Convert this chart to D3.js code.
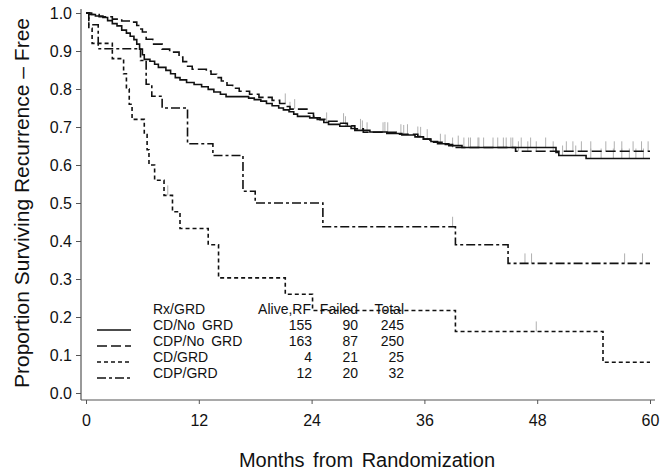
<!DOCTYPE html>
<html><head><meta charset="utf-8">
<script src="https://cdn.jsdelivr.net/npm/d3@7"></script>
<style>
body{margin:0;background:#fff}
svg{display:block}
text{font-family:"Liberation Sans",Arial,Helvetica,sans-serif;fill:#111}
</style>
</head><body>
<svg id="chart" width="664" height="471"></svg>
<script>
// ---- data ----
const seriesNames = ["CD/No GRD", "CDP/No GRD", "CD/GRD", "CDP/GRD"];
const aliveRF = [155, 163, 4, 12];
const failed = [90, 87, 21, 20];
const total = [245, 250, 25, 32];

const xTicks = [0, 12, 24, 36, 48, 60];
const yTicks = [0, 0.1, 0.2, 0.3, 0.4, 0.5, 0.6, 0.7, 0.8, 0.9, 1.0];

const cdNoGrdTime = [0,0.4,1.0,1.8,2.3,2.8,3.3,3.8,4.3,4.7,5.1,5.4,5.7,6.0,6.2,6.8,7.3,7.7,8.5,9.0,9.5,10.0,10.7,11.5,12.3,13.0,13.6,14.3,14.9,17.3,17.9,18.6,19.2,19.8,20.5,21.0,21.6,22.1,22.5,23.8,24.9,25.3,25.8,27.0,28.2,28.6,30.2,32.0,33.6,35.0,35.9,36.7,37.4,38.6,40.0,50.0,50.3,53.2,60];
const cdNoGrdSurv = [1.0,0.996,0.992,0.988,0.980,0.972,0.966,0.955,0.947,0.939,0.930,0.918,0.905,0.890,0.878,0.873,0.865,0.857,0.849,0.840,0.830,0.824,0.817,0.812,0.806,0.799,0.792,0.786,0.780,0.776,0.772,0.768,0.762,0.756,0.750,0.745,0.740,0.734,0.728,0.724,0.719,0.712,0.707,0.702,0.696,0.691,0.687,0.683,0.679,0.674,0.668,0.662,0.656,0.651,0.646,0.633,0.625,0.617,0.617];
const cdNoGrdCensor = [21.7,25.6,27.6,29.4,31.8,33.8,35.6,37.7,39.6,40.7,41.8,43.3,44.7,45.4,46.3,47.3,48.9,50.7,52.1,53.7,54.8,56.1,57.0,57.8,58.5,59.3];

const cdpNoGrdTime = [0,0.6,1.4,2.8,3.8,4.9,5.4,5.7,6.0,6.4,7.1,8.1,8.9,9.9,10.3,10.7,11.3,12.8,13.3,13.9,14.4,15.0,15.6,16.3,17.4,18.4,19.8,20.6,21.3,21.7,23.5,24.2,24.6,25.8,26.7,27.8,28.6,29.5,33.0,35.3,35.9,36.6,38.0,39.0,45.7,60];
const cdpNoGrdSurv = [1.0,0.996,0.990,0.984,0.979,0.976,0.967,0.958,0.950,0.931,0.918,0.905,0.897,0.884,0.872,0.860,0.852,0.847,0.839,0.830,0.821,0.810,0.802,0.794,0.786,0.778,0.770,0.762,0.754,0.747,0.736,0.728,0.720,0.715,0.710,0.703,0.695,0.686,0.681,0.675,0.668,0.660,0.654,0.646,0.636,0.636];
const cdpNoGrdCensor = [21.2,22.2,27.4,29.2,29.9,31.6,32.1,33.5,34.2,35.3,36.3,38.2,39.0,40.2,40.9,41.7,42.3,43.8,44.4,45.2,46.0,47.0,47.9,49.7,51.1,51.8,52.7,53.7,55.3,56.2,57.0,58.2,59.1,59.8];

const cdGrdTime = [0,0.3,0.65,2.8,4.0,4.3,4.6,4.9,6.2,6.5,6.7,7.3,8.3,9.2,10.0,13.0,14.1,21.2,24.1,39.3,55.0,60];
const cdGrdSurv = [1.0,0.96,0.92,0.88,0.84,0.80,0.76,0.72,0.68,0.64,0.60,0.56,0.52,0.477,0.433,0.39,0.303,0.26,0.217,0.162,0.081,0.081];
const cdGrdCensor = [8.7, 47.9];

const cdpGrdTime = [0,0.3,1.3,5.8,6.4,7.0,8.1,10.8,13.5,16.7,18.0,25.2,39.3,44.9,60];
const cdpGrdSurv = [1.0,0.969,0.906,0.875,0.8125,0.781,0.75,0.656,0.625,0.531,0.50,0.4375,0.39,0.341,0.341];
const cdpGrdCensor = [39.0, 46.7, 47.4, 57.3, 59.2];

// ---- assemble ----
const dashes = [null, "10,4", "4,3", "9,3,3,3"];
const series = [
  {time: cdNoGrdTime, surv: cdNoGrdSurv, censor: cdNoGrdCensor},
  {time: cdpNoGrdTime, surv: cdpNoGrdSurv, censor: cdpNoGrdCensor},
  {time: cdGrdTime, surv: cdGrdSurv, censor: cdGrdCensor},
  {time: cdpGrdTime, surv: cdpGrdSurv, censor: cdpGrdCensor}
].map((s, i) => ({...s, name: seriesNames[i], dash: dashes[i],
  pts: s.time.map((t, j) => [t, s.surv[j]])}));

const svg = d3.select("#chart");
const x = d3.scaleLinear().domain([0, 60]).range([86, 650]);
const y = d3.scaleLinear().domain([0, 1]).range([393, 13]);
const axisColor = "#555";
const axX = 81, axY = 400;

// y axis
const yMinor = d3.range(0, 1.0001, 0.02).filter(v => Math.abs(v*10 - Math.round(v*10)) > 1e-6);
const gy = svg.append("g").attr("transform", `translate(${axX},0)`);
gy.call(d3.axisLeft(y).tickValues(yMinor).tickSize(3).tickFormat(""));
gy.call(d3.axisLeft(y).tickValues(yTicks).tickSize(5).tickPadding(4).tickFormat(d3.format(".1f")));
gy.selectAll(".domain").remove();
gy.selectAll("line").attr("stroke", axisColor);
gy.selectAll("text").style("font-size", "16px").attr("fill", "#111");

// x axis
const xMinor = d3.range(0, 61, 2).filter(v => v % 12 !== 0);
const gx = svg.append("g").attr("transform", `translate(0,${axY})`);
gx.call(d3.axisBottom(x).tickValues(xMinor).tickSize(4).tickFormat(""));
gx.call(d3.axisBottom(x).tickValues(xTicks).tickSize(4).tickPadding(11).tickFormat(d3.format("d")));
gx.selectAll(".domain").remove();
gx.selectAll("line").attr("stroke", axisColor);
gx.selectAll("text").style("font-size", "16px").attr("fill", "#111");

svg.append("line").attr("x1", axX).attr("x2", axX).attr("y1", 9).attr("y2", axY)
  .attr("stroke", axisColor).attr("stroke-width", 1.2);
svg.append("line").attr("x1", axX).attr("x2", 655).attr("y1", axY).attr("y2", axY)
  .attr("stroke", axisColor).attr("stroke-width", 1.2);

// axis titles
svg.append("text").attr("transform", "translate(29,203) rotate(-90)")
  .attr("text-anchor", "middle").style("font-size", "21px")
  .text("Proportion Surviving Recurrence – Free");
svg.append("text").attr("x", 367).attr("y", 467).attr("text-anchor", "middle")
  .style("font-size", "20px").style("word-spacing", "3px")
  .text("Months from Randomization");

// censor marks
function survAt(s, t) {
  let v = s.surv[0];
  for (let j = 0; j < s.time.length; j++) if (s.time[j] <= t) v = s.surv[j];
  return v;
}
series.forEach(s => {
  svg.append("g").selectAll("line").data(s.censor).join("line")
    .attr("x1", d => x(d)).attr("x2", d => x(d))
    .attr("y1", d => y(survAt(s, d))).attr("y2", d => y(survAt(s, d)) - 10)
    .attr("stroke", "#b0b0b0").attr("stroke-width", 1);
});

// curves
const line = d3.line().x(d => x(d[0])).y(d => y(d[1])).curve(d3.curveStepAfter);
series.forEach(s => {
  svg.append("path").attr("d", line(s.pts)).attr("fill", "none")
    .attr("stroke", "#111").attr("stroke-width", 1.6)
    .attr("stroke-dasharray", s.dash);
});

// legend
const lg = svg.append("g").style("font-size", "14px");
const hdrY = 314, rowY0 = 330, rowH = 16;
lg.append("text").attr("x", 153).attr("y", hdrY).text("Rx/GRD");
lg.append("text").attr("x", 311).attr("y", hdrY).attr("text-anchor", "end").text("Alive,RF");
lg.append("text").attr("x", 358).attr("y", hdrY).attr("text-anchor", "end").text("Failed");
lg.append("text").attr("x", 404).attr("y", hdrY).attr("text-anchor", "end").text("Total");
series.forEach((s, i) => {
  const yy = rowY0 + i * rowH;
  lg.append("line").attr("x1", 97).attr("x2", 131).attr("y1", yy).attr("y2", yy)
    .attr("stroke", "#111").attr("stroke-width", 1.6).attr("stroke-dasharray", s.dash);
  lg.append("text").attr("x", 153).attr("y", yy).style("word-spacing", "3px").text(s.name);
  lg.append("text").attr("x", 312).attr("y", yy).attr("text-anchor", "end").text(aliveRF[i]);
  lg.append("text").attr("x", 358).attr("y", yy).attr("text-anchor", "end").text(failed[i]);
  lg.append("text").attr("x", 404).attr("y", yy).attr("text-anchor", "end").text(total[i]);
});
</script>
</body></html>
